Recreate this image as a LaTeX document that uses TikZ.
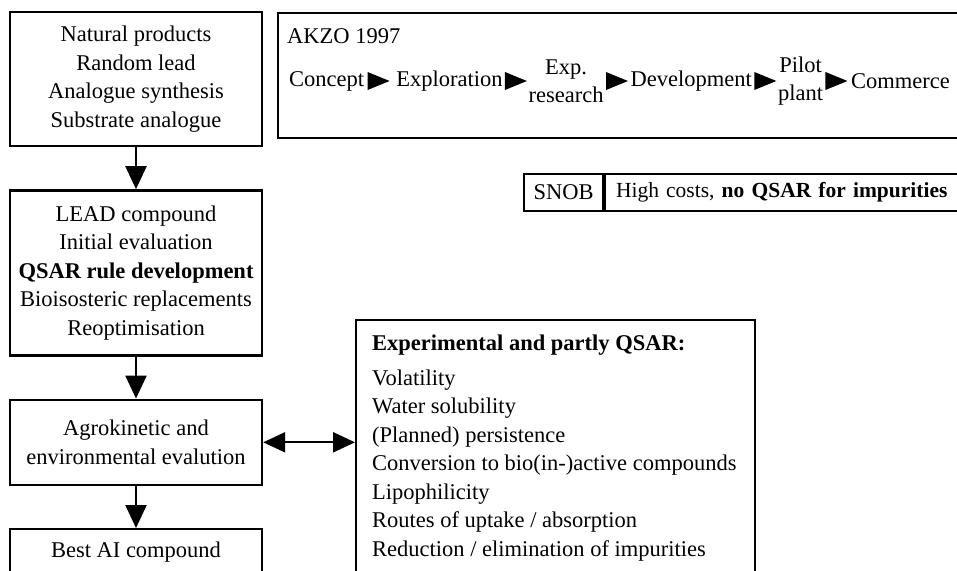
\documentclass[tikz,border=0pt]{standalone}
\usepackage{fontspec}
\setmainfont{Liberation Serif}
\usepackage{tikz}
\usetikzlibrary{shapes.geometric, arrows.meta, positioning}
\tikzstyle{stage} = [rectangle, draw=black, line width=2.4pt, minimum width=252pt, text centered, align=center, inner sep=0pt]
\tikzstyle{frame} = [rectangle, draw=black, line width=2.4pt, inner sep=0pt]
\tikzstyle{tag} = [rectangle, draw=black, line width=2pt, minimum height=37pt, inner sep=0pt]
\tikzstyle{flowtext} = [inner sep=0pt, align=center]
\tikzstyle{flowtip} = [isosceles triangle, isosceles triangle stretches, fill=black, minimum width=18pt, minimum height=22pt, inner sep=0pt]
\tikzstyle{arrow} = [line width=2.2pt, -{Triangle[length=23pt, width=21pt]}]
\tikzstyle{twoway} = [line width=2.2pt, {Triangle[length=22pt, width=20pt]}-{Triangle[length=22pt, width=20pt]}]

\begin{document}
\begin{tikzpicture}
				[x=1pt, y=-1pt, node distance=42pt, font=\fontsize{22.5}{28.5}\selectfont]
				\useasboundingbox (0,0) rectangle (957,570);
				\clip (0,0) rectangle (957,570);

				% left column
				\node (natural) [stage, minimum height=134pt] at (136,79) {Natural products\\Random lead\\Analogue synthesis\\Substrate analogue};
				\node (lead) [stage, minimum height=165pt, below=of natural] {LEAD compound\\Initial evaluation\\\textbf{QSAR rule development}\\Bioisosteric replacements\\Reoptimisation};
				\node (agro) [stage, minimum height=85pt, below=of lead] {Agrokinetic and\\environmental evalution};
				\node (best) [stage, minimum height=70pt, below=of agro, label={[anchor=center, yshift=-24pt]north:Best AI compound}] {};

				\draw [arrow] (natural) -- (lead);
				\draw [arrow] (lead) -- (agro);
				\draw [arrow] (agro) -- (best);

				% AKZO 1997 box
				\node (akzo) [frame, anchor=north west, minimum width=700pt, minimum height=125pt] at (277,12) {};
				\node (year) [flowtext, anchor=west] at (287,36) {AKZO 1997};
				\node (concept) [flowtext, anchor=west] at (289,81) {Concept};
				\node (tip1) [flowtip, right=3pt of concept] {};
				\node (explor) [flowtext, right=6pt of tip1] {Exploration};
				\node (tip2) [flowtip, right=2pt of explor] {};
				\node (expres) [flowtext, right=1pt of tip2] {Exp.\\research};
				\node (tip3) [flowtip, right=2pt of expres] {};
				\node (develop) [flowtext, right=2pt of tip3] {Development};
				\node (tip4) [flowtip, right=2pt of develop] {};
				\node (pilot) [flowtext, right=1pt of tip4] {Pilot\\plant};
				\node (tip5) [flowtip, right=2pt of pilot] {};
				\node (commerce) [flowtext, right=3pt of tip5] {Commerce};

				% SNOB
				\node (snob) [tag, anchor=north west, minimum width=79pt] at (523,173) {SNOB};
				\node (costs) [tag, right=0pt of snob, text width=345pt, inner xsep=11pt, align=left, font=\fontsize{21.5}{28.5}\selectfont] {High costs, \textbf{no QSAR for impurities}};

				% experimental box
				\node (expbox) [frame, anchor=north west, minimum width=399pt, minimum height=280pt] at (355,319) {};
				\node (explist) [anchor=north west, align=left, inner sep=0pt] at (372,335) {\textbf{Experimental and partly QSAR:}\\[6pt]Volatility\\Water solubility\\(Planned) persistence\\Conversion to bio(in-)active compounds\\Lipophilicity\\Routes of uptake / absorption\\Reduction / elimination of impurities};

				\draw [twoway] (agro.east) -- (agro.east -| expbox.west);
			\end{tikzpicture}
\end{document}
